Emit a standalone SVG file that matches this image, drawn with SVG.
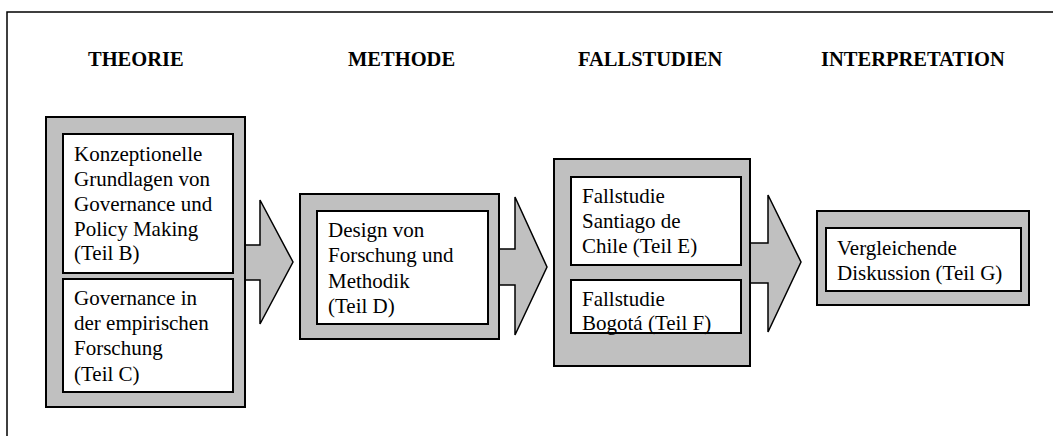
<svg xmlns="http://www.w3.org/2000/svg" width="1053" height="436" viewBox="0 0 1053 436">
<style>
.frame{fill:none;stroke:#000;stroke-width:1.5}
.outer{fill:#c0c0c0;stroke:#000;stroke-width:2}
.inner{fill:#fff;stroke:#000;stroke-width:2}
.arrow{fill:#c0c0c0;stroke:#000;stroke-width:1.5;stroke-linejoin:miter}
.hd{font-weight:bold;font-size:20.5px;fill:#000}
.tx{font-size:21px;fill:#000}
</style>
<rect width="1053" height="436" fill="#fff"/>
<path class="frame" d="M7,436 V12 H1053"/>
<g font-family="Liberation Serif, Tinos, Times New Roman, DejaVu Serif, serif">
<g id="headers">
<text class="hd" x="88" y="66">THEORIE</text>
<text class="hd" x="348" y="66">METHODE</text>
<text class="hd" x="578" y="66">FALLSTUDIEN</text>
<text class="hd" x="821" y="66">INTERPRETATION</text>
</g>
<g id="connectors">
<polygon class="arrow" points="244,245 260,245 260,200 293,262 260,324 260,280 244,280"/>
<polygon class="arrow" points="498,249 515,249 515,197 547,267 515,335 515,285 498,285"/>
<polygon class="arrow" points="749,243 768,243 768,195 801,262 768,332 768,283 749,283"/>
</g>
<g id="theorie">
<rect class="outer" x="46" y="117" width="199" height="290"/>
<g id="teilB">
<rect class="inner" x="63" y="134" width="170" height="139"/>
<text class="tx" x="74" y="161">Konzeptionelle</text>
<text class="tx" x="74" y="186">Grundlagen von</text>
<text class="tx" x="74" y="211">Governance und</text>
<text class="tx" x="74" y="236">Policy Making</text>
<text class="tx" x="74" y="260">(Teil B)</text>
</g>
<g id="teilC">
<rect class="inner" x="63" y="279" width="170" height="113"/>
<text class="tx" x="74" y="305">Governance in</text>
<text class="tx" x="74" y="330">der empirischen</text>
<text class="tx" x="74" y="355">Forschung</text>
<text class="tx" x="74" y="381">(Teil C)</text>
</g>
</g>
<g id="methode">
<rect class="outer" x="300" y="194" width="199" height="145"/>
<g id="teilD">
<rect class="inner" x="317" y="211" width="171" height="113"/>
<text class="tx" x="328" y="237">Design von</text>
<text class="tx" x="328" y="262">Forschung und</text>
<text class="tx" x="328" y="288">Methodik</text>
<text class="tx" x="328" y="313">(Teil D)</text>
</g>
</g>
<g id="fallstudien">
<rect class="outer" x="554" y="159" width="196" height="207"/>
<g id="teilE">
<rect class="inner" x="571" y="177" width="170" height="88"/>
<text class="tx" x="582" y="203">Fallstudie</text>
<text class="tx" x="582" y="228">Santiago de</text>
<text class="tx" x="582" y="253">Chile (Teil E)</text>
</g>
<g id="teilF">
<rect class="inner" x="571" y="280" width="170" height="53"/>
<text class="tx" x="582" y="306">Fallstudie</text>
<text class="tx" x="582" y="330">Bogotá (Teil F)</text>
</g>
</g>
<g id="interpretation">
<rect class="outer" x="817" y="211" width="212" height="94"/>
<g id="teilG">
<rect class="inner" x="826" y="228" width="195" height="63"/>
<text class="tx" x="837" y="255">Vergleichende</text>
<text class="tx" x="837" y="280">Diskussion (Teil G)</text>
</g>
</g>
</g>
</svg>
